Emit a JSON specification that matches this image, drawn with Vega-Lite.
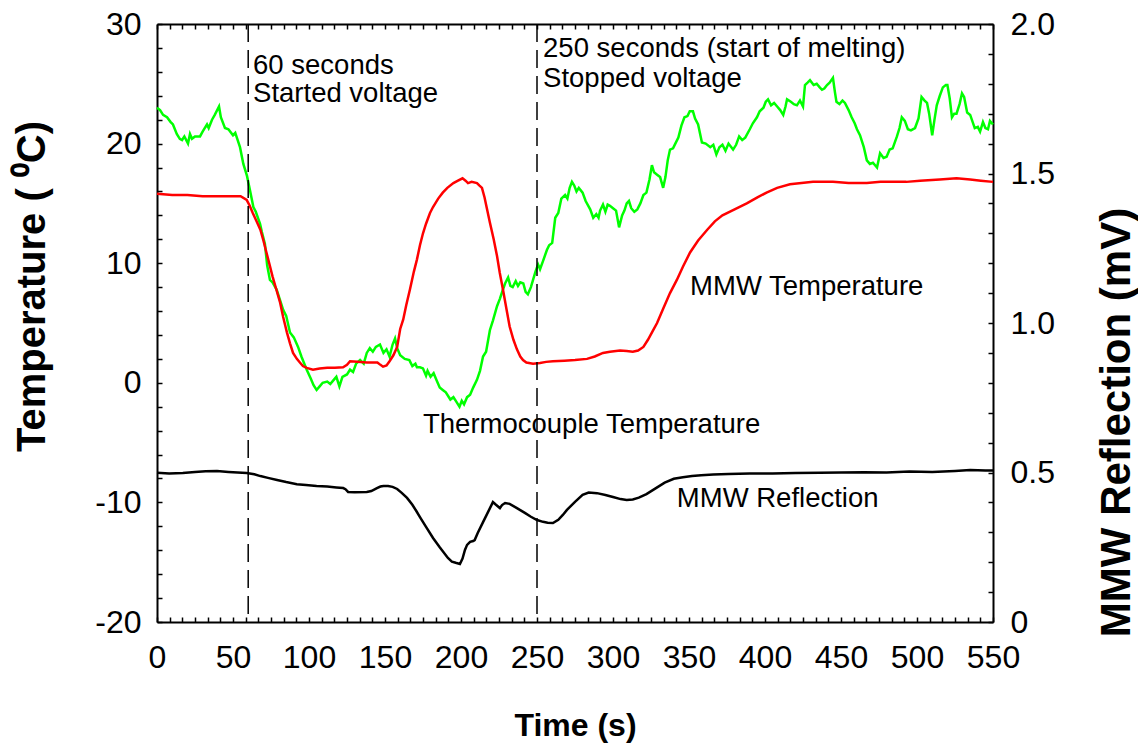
{
  "$schema": "https://vega.github.io/schema/vega-lite/v6.json",
  "width": 836,
  "height": 598,
  "autosize": {"type": "none"},
  "padding": {"left": 157, "top": 24, "right": 145, "bottom": 122},
  "background": "white",
  "config": {
    "font": "Liberation Sans",
    "view": {"stroke": null},
    "axis": {
      "grid": false,
      "domainColor": "black",
      "domainWidth": 2,
      "tickColor": "black",
      "tickWidth": 1.5,
      "tickSize": -5,
      "labelColor": "black",
      "labelFontSize": 32,
      "labelFont": "Liberation Sans",
      "titleColor": "black",
      "titleFont": "Liberation Sans",
      "titleFontWeight": "bold",
      "labelOverlap": false,
      "labelFlush": false,
      "labelBound": false
    }
  },
  "datasets": {
    "thermo": [
      {"t":0,"v":23.0},{"t":2,"v":22.8},{"t":4,"v":22.4},{"t":6.6,"v":22.2},{"t":9,"v":21.8},{"t":10.5,"v":21.6},{"t":13,"v":20.8},{"t":15,"v":20.4},{"t":16.5,"v":20.3},{"t":18,"v":20.6},{"t":20.4,"v":20.0},{"t":21.7,"v":20.8},{"t":23,"v":20.4},{"t":25,"v":20.6},{"t":28.3,"v":20.6},{"t":30,"v":21.0},{"t":32.9,"v":21.6},{"t":34,"v":21.3},{"t":36.2,"v":22.0},{"t":38,"v":22.4},{"t":40.8,"v":23.1},{"t":42,"v":22.2},{"t":44.7,"v":21.3},{"t":47,"v":21.2},{"t":50,"v":20.7},{"t":51.5,"v":20.9},{"t":54.6,"v":19.7},{"t":56.8,"v":18.3},{"t":59.2,"v":17.3},{"t":61,"v":16.2},{"t":63.4,"v":14.7},{"t":65,"v":14.3},{"t":67.8,"v":13.3},{"t":69,"v":12.6},{"t":71,"v":11.6},{"t":72.5,"v":9.8},{"t":74.3,"v":8.6},{"t":76,"v":8.4},{"t":78.7,"v":7.8},{"t":81,"v":6.9},{"t":83,"v":6.1},{"t":85,"v":5.6},{"t":87.5,"v":4.2},{"t":90,"v":3.8},{"t":92.8,"v":3.0},{"t":95,"v":2.2},{"t":98.5,"v":1.1},{"t":101,"v":0.4},{"t":103,"v":-0.2},{"t":105,"v":-0.6},{"t":107,"v":-0.3},{"t":109,"v":0.0},{"t":112,"v":0.1},{"t":114,"v":-0.1},{"t":116,"v":0.2},{"t":118,"v":0.5},{"t":120,"v":-0.3},{"t":122,"v":0.5},{"t":125,"v":0.7},{"t":127,"v":1.1},{"t":129,"v":0.9},{"t":131,"v":1.6},{"t":133.6,"v":1.9},{"t":136,"v":1.6},{"t":138,"v":2.5},{"t":140,"v":2.9},{"t":142,"v":2.6},{"t":144,"v":3.0},{"t":146.7,"v":3.2},{"t":149,"v":2.5},{"t":151,"v":2.8},{"t":153,"v":2.2},{"t":155,"v":3.2},{"t":156.6,"v":3.7},{"t":158,"v":2.9},{"t":160,"v":2.3},{"t":163,"v":2.0},{"t":166,"v":1.9},{"t":168,"v":1.4},{"t":170,"v":1.6},{"t":171,"v":1.3},{"t":173,"v":1.3},{"t":175,"v":1.2},{"t":177,"v":0.6},{"t":178,"v":1.0},{"t":180,"v":0.5},{"t":182,"v":0.8},{"t":184,"v":0.2},{"t":186,"v":-0.4},{"t":188,"v":-0.6},{"t":190,"v":-0.8},{"t":193,"v":-1.4},{"t":195,"v":-1.2},{"t":197,"v":-1.6},{"t":199,"v":-2.0},{"t":200.5,"v":-1.5},{"t":202,"v":-1.8},{"t":204,"v":-1.2},{"t":206,"v":-1.0},{"t":208,"v":-0.4},{"t":210.5,"v":0.25},{"t":212.5,"v":1.0},{"t":214.5,"v":2.2},{"t":216.5,"v":2.6},{"t":219,"v":4.4},{"t":221,"v":5.2},{"t":223.7,"v":6.4},{"t":225.5,"v":7.0},{"t":227.6,"v":7.8},{"t":229,"v":8.3},{"t":231,"v":8.8},{"t":232.5,"v":8.1},{"t":234,"v":8.0},{"t":236,"v":8.5},{"t":237.5,"v":8.1},{"t":239,"v":8.4},{"t":241,"v":8.3},{"t":242.5,"v":7.6},{"t":244,"v":7.4},{"t":246,"v":8.0},{"t":247.4,"v":8.6},{"t":249,"v":9.3},{"t":250.7,"v":9.9},{"t":252,"v":9.5},{"t":254,"v":10.2},{"t":256.5,"v":11.1},{"t":258,"v":11.5},{"t":260,"v":11.7},{"t":262,"v":13.8},{"t":264,"v":14.2},{"t":266,"v":15.4},{"t":268.5,"v":15.7},{"t":270,"v":15.4},{"t":271.5,"v":16.3},{"t":273,"v":16.8},{"t":274.5,"v":16.5},{"t":276,"v":16.0},{"t":277.5,"v":16.3},{"t":280,"v":15.9},{"t":282,"v":15.2},{"t":285,"v":14.5},{"t":287,"v":13.8},{"t":289,"v":14.1},{"t":290.5,"v":13.8},{"t":291.5,"v":14.4},{"t":293.4,"v":14.9},{"t":295,"v":14.3},{"t":296.5,"v":14.9},{"t":298,"v":14.8},{"t":300,"v":14.6},{"t":302,"v":14.4},{"t":304,"v":13.0},{"t":306,"v":14.0},{"t":307.5,"v":14.4},{"t":309,"v":15.0},{"t":310.5,"v":15.2},{"t":312,"v":14.6},{"t":314,"v":14.3},{"t":316,"v":14.5},{"t":318,"v":15.0},{"t":320,"v":15.7},{"t":322,"v":15.9},{"t":324,"v":17.0},{"t":325.6,"v":18.2},{"t":327,"v":17.6},{"t":329,"v":17.4},{"t":331,"v":17.2},{"t":333,"v":16.3},{"t":334.5,"v":17.2},{"t":336,"v":18.6},{"t":337.5,"v":19.5},{"t":339.5,"v":19.6},{"t":341,"v":20.0},{"t":343,"v":20.5},{"t":345,"v":21.5},{"t":347,"v":22.2},{"t":349,"v":22.3},{"t":350.5,"v":22.7},{"t":352.6,"v":22.7},{"t":354,"v":22.1},{"t":356,"v":21.6},{"t":358.5,"v":20.1},{"t":361,"v":20.0},{"t":364,"v":19.7},{"t":366,"v":19.9},{"t":368,"v":19.1},{"t":370,"v":19.7},{"t":372,"v":19.9},{"t":374,"v":19.4},{"t":376,"v":20.0},{"t":379,"v":19.5},{"t":381,"v":19.9},{"t":383,"v":20.6},{"t":385,"v":20.3},{"t":387,"v":20.5},{"t":390,"v":21.2},{"t":392,"v":21.7},{"t":394.7,"v":22.2},{"t":396.5,"v":22.7},{"t":399,"v":23.0},{"t":400.5,"v":23.5},{"t":402,"v":23.7},{"t":404,"v":23.2},{"t":406,"v":23.4},{"t":408,"v":23.1},{"t":410,"v":22.8},{"t":412,"v":22.4},{"t":413.5,"v":23.1},{"t":414.5,"v":23.7},{"t":417,"v":23.5},{"t":419,"v":23.3},{"t":421,"v":23.2},{"t":423,"v":23.6},{"t":425,"v":23.1},{"t":426.3,"v":24.9},{"t":428,"v":25.1},{"t":429.6,"v":25.3},{"t":432,"v":24.9},{"t":434,"v":25.0},{"t":436,"v":24.7},{"t":437.5,"v":24.5},{"t":439,"v":24.6},{"t":440.8,"v":24.9},{"t":442.5,"v":25.1},{"t":444.7,"v":25.5},{"t":446,"v":24.3},{"t":447,"v":23.5},{"t":449,"v":23.3},{"t":451,"v":23.6},{"t":452.6,"v":23.4},{"t":455,"v":22.8},{"t":457,"v":22.2},{"t":459,"v":21.7},{"t":460.5,"v":21.2},{"t":462.5,"v":20.7},{"t":465,"v":19.7},{"t":467,"v":18.6},{"t":469,"v":18.3},{"t":471,"v":18.4},{"t":473.7,"v":18.0},{"t":475.7,"v":19.2},{"t":478,"v":18.8},{"t":480,"v":18.9},{"t":482,"v":19.5},{"t":484,"v":19.6},{"t":486.8,"v":20.6},{"t":488.5,"v":21.3},{"t":490,"v":22.2},{"t":492,"v":21.9},{"t":494,"v":21.2},{"t":496,"v":21.1},{"t":498.7,"v":21.3},{"t":501,"v":22.1},{"t":503,"v":23.9},{"t":505,"v":23.6},{"t":506.6,"v":23.4},{"t":508,"v":22.5},{"t":510,"v":20.7},{"t":511.5,"v":22.0},{"t":513,"v":23.2},{"t":515,"v":24.0},{"t":517,"v":24.7},{"t":519,"v":24.9},{"t":520,"v":24.9},{"t":521.5,"v":23.8},{"t":523,"v":22.2},{"t":524.5,"v":22.5},{"t":526,"v":22.5},{"t":528,"v":23.3},{"t":529.6,"v":24.2},{"t":531,"v":23.9},{"t":533,"v":22.6},{"t":535,"v":22.4},{"t":538,"v":21.3},{"t":540,"v":21.4},{"t":541.5,"v":21.0},{"t":543.4,"v":21.8},{"t":545,"v":21.3},{"t":546.7,"v":21.2},{"t":548,"v":21.9},{"t":550,"v":21.6}
    ],
    "mmwtemp": [
      {"t":0,"v":15.8},{"t":10,"v":15.7},{"t":20,"v":15.7},{"t":30,"v":15.6},{"t":40,"v":15.6},{"t":50,"v":15.6},{"t":55,"v":15.6},{"t":59,"v":15.3},{"t":61,"v":14.8},{"t":63,"v":14.2},{"t":65.5,"v":13.5},{"t":68,"v":12.8},{"t":70,"v":11.9},{"t":72,"v":10.9},{"t":74,"v":9.9},{"t":76,"v":8.9},{"t":78.5,"v":7.8},{"t":81,"v":6.7},{"t":83,"v":5.5},{"t":85.5,"v":4.2},{"t":87.5,"v":3.3},{"t":89.5,"v":2.5},{"t":92,"v":2.0},{"t":94,"v":1.7},{"t":96,"v":1.4},{"t":98.5,"v":1.25},{"t":102.6,"v":1.1},{"t":107,"v":1.2},{"t":112,"v":1.25},{"t":117,"v":1.25},{"t":122.4,"v":1.3},{"t":125,"v":1.5},{"t":127,"v":1.8},{"t":132,"v":1.75},{"t":138,"v":1.7},{"t":145,"v":1.7},{"t":147,"v":1.5},{"t":148.7,"v":1.35},{"t":151,"v":1.45},{"t":153,"v":1.8},{"t":155.5,"v":2.3},{"t":158,"v":3.0},{"t":160,"v":4.5},{"t":162,"v":5.3},{"t":164,"v":6.5},{"t":166.4,"v":7.8},{"t":169,"v":9.3},{"t":171,"v":10.3},{"t":173,"v":11.5},{"t":175,"v":12.5},{"t":177,"v":13.3},{"t":179.6,"v":14.2},{"t":181.6,"v":14.7},{"t":185,"v":15.4},{"t":188,"v":15.9},{"t":191,"v":16.3},{"t":195,"v":16.7},{"t":198,"v":16.9},{"t":201,"v":17.1},{"t":203,"v":16.9},{"t":204.6,"v":16.7},{"t":207,"v":16.8},{"t":210.5,"v":16.7},{"t":212,"v":16.5},{"t":213.8,"v":16.3},{"t":215.5,"v":15.5},{"t":217,"v":14.6},{"t":219,"v":13.4},{"t":221.5,"v":12.0},{"t":223.7,"v":10.6},{"t":225.5,"v":9.2},{"t":227.6,"v":7.8},{"t":230,"v":6.1},{"t":232,"v":4.7},{"t":234.5,"v":3.6},{"t":236.8,"v":2.8},{"t":239,"v":2.2},{"t":240.8,"v":1.9},{"t":243,"v":1.7},{"t":247.4,"v":1.6},{"t":252,"v":1.65},{"t":256,"v":1.75},{"t":260.5,"v":1.8},{"t":268,"v":1.85},{"t":275,"v":1.9},{"t":282.9,"v":2.0},{"t":288,"v":2.2},{"t":293.4,"v":2.5},{"t":298,"v":2.6},{"t":304.6,"v":2.7},{"t":309,"v":2.65},{"t":313,"v":2.6},{"t":316.5,"v":2.7},{"t":320,"v":3.0},{"t":323,"v":3.6},{"t":326,"v":4.3},{"t":329,"v":5.0},{"t":333,"v":6.2},{"t":337.5,"v":7.5},{"t":342,"v":8.6},{"t":346,"v":9.7},{"t":350.7,"v":10.9},{"t":356,"v":11.9},{"t":362,"v":12.8},{"t":367,"v":13.5},{"t":372,"v":14.0},{"t":380,"v":14.5},{"t":388,"v":15.0},{"t":395,"v":15.5},{"t":401,"v":15.9},{"t":408,"v":16.3},{"t":416.4,"v":16.6},{"t":424,"v":16.7},{"t":431.6,"v":16.8},{"t":444.7,"v":16.8},{"t":455,"v":16.7},{"t":467,"v":16.7},{"t":476,"v":16.8},{"t":484,"v":16.8},{"t":493,"v":16.8},{"t":502,"v":16.9},{"t":515,"v":17.0},{"t":526,"v":17.1},{"t":535,"v":17.0},{"t":542,"v":16.9},{"t":550,"v":16.8}
    ],
    "refl": [
      {"t":0,"r":0.499},{"t":8,"r":0.497},{"t":17,"r":0.498},{"t":25,"r":0.502},{"t":32,"r":0.504},{"t":39.5,"r":0.505},{"t":47,"r":0.502},{"t":53,"r":0.5},{"t":59,"r":0.498},{"t":64,"r":0.494},{"t":68,"r":0.488},{"t":73,"r":0.482},{"t":79,"r":0.475},{"t":85,"r":0.468},{"t":92,"r":0.461},{"t":98,"r":0.458},{"t":105,"r":0.455},{"t":112,"r":0.453},{"t":118,"r":0.45},{"t":122.5,"r":0.448},{"t":124,"r":0.444},{"t":125.7,"r":0.435},{"t":130,"r":0.434},{"t":138,"r":0.435},{"t":141,"r":0.438},{"t":144.7,"r":0.448},{"t":147,"r":0.453},{"t":149,"r":0.455},{"t":152,"r":0.455},{"t":155,"r":0.452},{"t":158,"r":0.445},{"t":161,"r":0.432},{"t":164.5,"r":0.415},{"t":168,"r":0.392},{"t":170.5,"r":0.372},{"t":173,"r":0.351},{"t":177,"r":0.318},{"t":181.6,"r":0.281},{"t":186,"r":0.25},{"t":191.4,"r":0.214},{"t":194,"r":0.202},{"t":196.5,"r":0.198},{"t":199.3,"r":0.194},{"t":201,"r":0.212},{"t":202.6,"r":0.241},{"t":204,"r":0.258},{"t":206,"r":0.268},{"t":208,"r":0.271},{"t":209,"r":0.274},{"t":211,"r":0.298},{"t":214.5,"r":0.334},{"t":218,"r":0.37},{"t":221,"r":0.401},{"t":223,"r":0.392},{"t":225.6,"r":0.381},{"t":227,"r":0.391},{"t":229,"r":0.398},{"t":232,"r":0.395},{"t":236.8,"r":0.381},{"t":242,"r":0.365},{"t":246,"r":0.352},{"t":250,"r":0.341},{"t":254,"r":0.335},{"t":257,"r":0.332},{"t":260.5,"r":0.331},{"t":264,"r":0.342},{"t":267,"r":0.358},{"t":269.7,"r":0.375},{"t":275,"r":0.402},{"t":280,"r":0.425},{"t":284,"r":0.433},{"t":289.5,"r":0.431},{"t":295,"r":0.425},{"t":300,"r":0.418},{"t":305,"r":0.411},{"t":309,"r":0.408},{"t":313,"r":0.41},{"t":317,"r":0.416},{"t":322,"r":0.428},{"t":328,"r":0.447},{"t":334,"r":0.466},{"t":340,"r":0.479},{"t":346,"r":0.484},{"t":352,"r":0.488},{"t":358,"r":0.491},{"t":366,"r":0.493},{"t":376,"r":0.495},{"t":390,"r":0.497},{"t":405,"r":0.497},{"t":420,"r":0.498},{"t":436,"r":0.499},{"t":450,"r":0.5},{"t":465,"r":0.501},{"t":480,"r":0.5},{"t":495,"r":0.503},{"t":510,"r":0.502},{"t":525,"r":0.505},{"t":535,"r":0.508},{"t":545,"r":0.507},{"t":550,"r":0.507}
    ],
    "events": [{"t": 60}, {"t": 250}],
    "labels": [
      {"t": 63.2, "v": 25.8, "label": "60 seconds"},
      {"t": 63.2, "v": 23.45, "label": "Started voltage"},
      {"t": 254, "v": 27.26, "label": "250 seconds (start of melting)"},
      {"t": 254, "v": 24.75, "label": "Stopped voltage"},
      {"t": 350.7, "v": 7.36, "label": "MMW Temperature"},
      {"t": 175, "v": -4.18, "label": "Thermocouple Temperature"},
      {"t": 342, "v": -10.37, "label": "MMW Reflection"}
    ]
  },
  "layer": [
    {
      "data": {"name": "thermo"},
      "mark": {"type": "line", "color": "#00ff00", "strokeWidth": 2.5},
      "encoding": {
        "x": {
          "field": "t",
          "type": "quantitative",
          "scale": {"domain": [0, 550], "nice": false, "zero": false},
          "axis": {
            "orient": "bottom",
            "values": [0,8.333,16.667,25,33.333,41.667,50,58.333,66.667,75,83.333,91.667,100,108.333,116.667,125,133.333,141.667,150,158.333,166.667,175,183.333,191.667,200,208.333,216.667,225,233.333,241.667,250,258.333,266.667,275,283.333,291.667,300,308.333,316.667,325,333.333,341.667,350,358.333,366.667,375,383.333,391.667,400,408.333,416.667,425,433.333,441.667,450,458.333,466.667,475,483.333,491.667,500,508.333,516.667,525,533.333,541.667,550],
            "labelExpr": "abs(datum.value/50 - round(datum.value/50)) < 0.001 ? '' + round(datum.value) : ''",
            "labelPadding": 25.6,
            "title": "Time (s)",
            "titleFontSize": 32,
            "titleX": 418,
            "titleY": 113,
            "titleBaseline": "alphabetic",
            "titleAlign": "center"
          }
        },
        "y": {
          "field": "v",
          "type": "quantitative",
          "scale": {"domain": [-20, 30], "nice": false, "zero": false},
          "axis": {
            "orient": "left",
            "values": [-20,-18,-16,-14,-12,-10,-8,-6,-4,-2,0,2,4,6,8,10,12,14,16,18,20,22,24,26,28,30],
            "labelExpr": "abs(datum.value/10 - round(datum.value/10)) < 0.001 ? '' + round(datum.value) : ''",
            "labelPadding": 21,
            "title": "Temperature ( ⁰C)",
            "titleFontSize": 40,
            "titleAngle": -90,
            "titleX": -113,
            "titleY": 262,
            "titleBaseline": "alphabetic",
            "titleAlign": "center"
          }
        }
      }
    },
    {
      "data": {"name": "mmwtemp"},
      "mark": {"type": "line", "color": "#ff0000", "strokeWidth": 2.5},
      "encoding": {
        "x": {"field": "t", "type": "quantitative", "scale": {"domain": [0, 550], "nice": false, "zero": false}, "axis": null},
        "y": {"field": "v", "type": "quantitative", "scale": {"domain": [-20, 30], "nice": false, "zero": false}, "axis": null}
      }
    },
    {
      "data": {"name": "events"},
      "mark": {"type": "rule", "color": "black", "strokeWidth": 1.5, "strokeDash": [18, 8]},
      "encoding": {
        "x": {"field": "t", "type": "quantitative", "scale": {"domain": [0, 550], "nice": false, "zero": false}, "axis": null}
      }
    },
    {
      "data": {"name": "labels"},
      "mark": {"type": "text", "align": "left", "baseline": "alphabetic", "fontSize": 27.5, "font": "Liberation Sans", "color": "black"},
      "encoding": {
        "x": {"field": "t", "type": "quantitative", "scale": {"domain": [0, 550], "nice": false, "zero": false}, "axis": null},
        "y": {"field": "v", "type": "quantitative", "scale": {"domain": [-20, 30], "nice": false, "zero": false}, "axis": null},
        "text": {"field": "label"}
      }
    },
    {
      "data": {"name": "refl"},
      "mark": {"type": "line", "color": "black", "strokeWidth": 2.5},
      "encoding": {
        "x": {
          "field": "t",
          "type": "quantitative",
          "scale": {"domain": [0, 550], "nice": false, "zero": false},
          "axis": {
            "orient": "top",
            "values": [0,8.333,16.667,25,33.333,41.667,50,58.333,66.667,75,83.333,91.667,100,108.333,116.667,125,133.333,141.667,150,158.333,166.667,175,183.333,191.667,200,208.333,216.667,225,233.333,241.667,250,258.333,266.667,275,283.333,291.667,300,308.333,316.667,325,333.333,341.667,350,358.333,366.667,375,383.333,391.667,400,408.333,416.667,425,433.333,441.667,450,458.333,466.667,475,483.333,491.667,500,508.333,516.667,525,533.333,541.667,550],
            "labels": false,
            "title": null
          }
        },
        "y": {
          "field": "r",
          "type": "quantitative",
          "scale": {"domain": [0, 2], "nice": false, "zero": false},
          "axis": {
            "orient": "right",
            "values": [0,0.1,0.2,0.3,0.4,0.5,0.6,0.7,0.8,0.9,1.0,1.1,1.2,1.3,1.4,1.5,1.6,1.7,1.8,1.9,2.0],
            "labelExpr": "datum.value < 0.001 ? '0' : (abs(datum.value*2 - round(datum.value*2)) < 0.001 ? format(datum.value, '.1f') : '')",
            "labelPadding": 22,
            "title": "MMW Reflection (mV)",
            "titleFontSize": 42,
            "titleAngle": -90,
            "titleX": 136,
            "titleY": 398,
            "titleBaseline": "alphabetic",
            "titleAlign": "center"
          }
        }
      }
    }
  ],
  "resolve": {"scale": {"y": "independent"}, "axis": {"x": "independent", "y": "independent"}}
}
